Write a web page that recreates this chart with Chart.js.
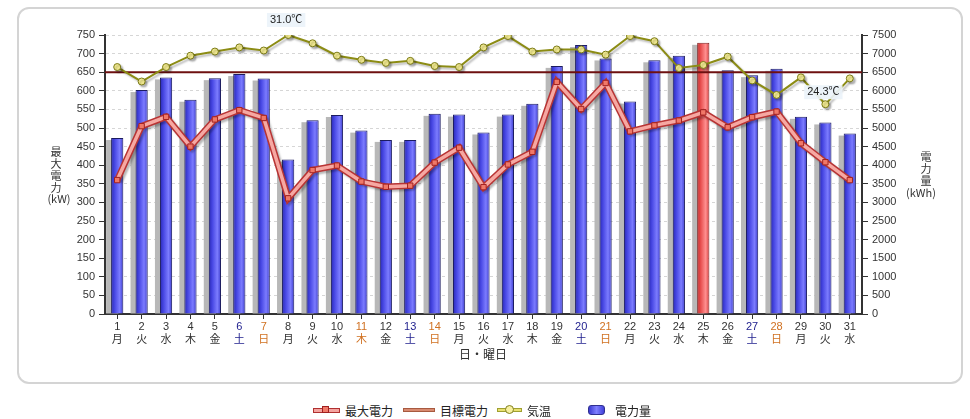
<!DOCTYPE html>
<html><head><meta charset="utf-8">
<script src="https://cdn.jsdelivr.net/npm/chart.js@4/dist/chart.umd.min.js"></script>
<style>
html,body{margin:0;padding:0;background:#fff;width:970px;height:419px;overflow:hidden;font-family:"Liberation Sans","Noto Sans CJK JP",sans-serif;}
#box{position:absolute;left:17px;top:7px;width:942px;height:373px;border:2px solid #d4d4d4;border-radius:12px;box-sizing:content-box;}
#wrap{position:absolute;left:0;top:0;width:970px;height:390px;}
.yt{position:absolute;font-size:11px;line-height:12px;text-align:center;color:#333;font-family:"Noto Sans CJK JP",sans-serif;}
.xt{position:absolute;font-size:12px;color:#333;font-family:"Noto Sans CJK JP",sans-serif;}
.lg{position:absolute;top:402px;height:16px;display:flex;align-items:center;font-size:12px;color:#222;font-family:"Noto Sans CJK JP",sans-serif;}
.mk{position:relative;display:inline-block;margin-right:5px;}
</style></head>
<body>
<div id="box"></div>
<div id="wrap"><canvas id="c" width="970" height="390"></canvas></div>
<div class="yt" style="left:48px;top:145px;width:16px;">最<br>大<br>電<br>力</div>
<div class="yt" style="left:44px;top:192px;width:30px;">(kW)</div>
<div class="yt" style="left:918px;top:150px;width:16px;">電<br>力<br>量</div>
<div class="yt" style="left:903px;top:186px;width:36px;">(kWh)</div>
<div class="xt" style="left:459px;top:345px;">日・曜日</div>

<div class="lg" style="left:313px;"><span class="mk" style="width:25px;height:3px;background:#f4a4a0;border:1px solid #b03030;"><span style="position:absolute;left:8px;top:-3px;width:7px;height:7px;background:#f07868;border:1px solid #a02020;box-sizing:border-box;"></span></span>最大電力</div>
<div class="lg" style="left:403px;"><span class="mk" style="width:30px;height:2px;background:#d88a70;border:1px solid #a85a40;"></span>目標電力</div>
<div class="lg" style="left:497px;"><span class="mk" style="width:23px;height:2px;background:#e8e070;border:1px solid #a0a030;"><span style="position:absolute;left:7px;top:-4px;width:9px;height:9px;border-radius:50%;background:#f8f0a0;border:1px solid #808020;box-sizing:border-box;"></span></span>気温</div>
<div class="lg" style="left:588px;"><span class="mk" style="width:15px;height:8px;border-radius:3px;background:linear-gradient(90deg,#3a3ad0,#8080ff,#4040d8);border:1px solid #303090;margin-right:10px;"></span>電力量</div>

<script>
const days = ['1','2','3','4','5','6','7','8','9','10','11','12','13','14','15','16','17','18','19','20','21','22','23','24','25','26','27','28','29','30','31'];
const weekdays = ['月','火','水','木','金','土','日','月','火','水','木','金','土','日','月','火','水','木','金','土','日','月','火','水','木','金','土','日','月','火','水'];
// w = weekday, s = Saturday, h = Sunday / holiday
const dayKinds = ['w','w','w','w','w','s','h','w','w','w','h','w','s','h','w','w','w','w','w','s','h','w','w','w','w','w','s','h','w','w','w'];
const energy = [4730,6020,6360,5760,6340,6450,6330,4150,5210,5350,4930,4680,4680,5380,5360,4880,5360,5650,6670,7230,6870,5710,6820,6940,7290,6550,6420,6590,5300,5150,4850];
const maxPower = [360,505,530,450,523,548,527,311,387,399,356,342,345,407,447,341,402,436,624,551,621,491,507,520,542,502,529,544,459,408,360];
const temperature = [27.9,26.5,27.9,29.0,29.4,29.8,29.5,31.0,30.2,29.0,28.6,28.3,28.5,28.0,27.9,29.8,30.9,29.4,29.6,29.6,29.1,30.9,30.4,27.8,28.1,28.9,26.6,25.2,26.9,24.3,26.8];
const targetPower = 650;
const powerTicks = {min:0, max:750, step:50};
const energyTicks = {min:0, max:7500, step:500};
const tempRange = {min:4, max:31};

const peakIndex = energy.indexOf(Math.max(...energy));
const tMaxI = temperature.indexOf(Math.max(...temperature));
const tMinI = temperature.indexOf(Math.min(...temperature));
const FONT = '"Liberation Sans","Noto Sans CJK JP",sans-serif';
const kindColor = {w:'#333333', s:'#1c1c8c', h:'#d07020'};

// bar shadow + horizontal gradient, positioned from the bar elements laid out by Chart.js
const barStyle = {
  id:'barStyle',
  beforeDatasetDraw(chart, args){
    if(args.meta.type !== 'bar') return;
    const ctx = chart.ctx;
    ctx.save(); ctx.fillStyle = '#b8b8b8';
    args.meta.data.forEach((el, i) => {
      const p = el.getProps(['x','y','base','width'], true);
      ctx.fillRect(p.x - p.width/2 - 5, p.y + 2, p.width, p.base - p.y - 2);
      const g = ctx.createLinearGradient(p.x - p.width/2, 0, p.x + p.width/2, 0);
      if(i === peakIndex){ g.addColorStop(0,'#c82828'); g.addColorStop(0.3,'#e85050'); g.addColorStop(0.7,'#ff9090'); g.addColorStop(1,'#d83c3c'); }
      else { g.addColorStop(0,'#2828b4'); g.addColorStop(0.3,'#4848e4'); g.addColorStop(0.7,'#7c7cff'); g.addColorStop(1,'#3a3acc'); }
      try { el.options.backgroundColor = g; } catch(e) {}
    });
    ctx.restore();
  }
};
const lineShadow = {
  id:'lineShadow',
  beforeDatasetDraw(chart, args){
    const ds = chart.data.datasets[args.index];
    if(!ds.shadow) return;
    const ctx = chart.ctx; ctx.save();
    ctx.shadowColor = 'rgba(0,0,0,0.28)'; ctx.shadowOffsetX = 2; ctx.shadowOffsetY = 2; ctx.shadowBlur = 2;
  },
  afterDatasetDraw(chart, args){
    const ds = chart.data.datasets[args.index];
    if(ds.shadow) chart.ctx.restore();
  }
};
const tempLabels = {
  id:'tempLabels',
  afterDatasetsDraw(chart){
    const idx = chart.data.datasets.findIndex(d => d.id === 'temp');
    const meta = chart.getDatasetMeta(idx);
    const ctx = chart.ctx;
    [[tMaxI,15],[tMinI,12]].forEach(([i,off]) => {
      const p = meta.data[i];
      const txt = temperature[i].toFixed(1) + '℃';
      ctx.save();
      ctx.font = '11px ' + FONT;
      const w = ctx.measureText(txt).width;
      const cy = p.y - off, cx = p.x - 2;
      ctx.fillStyle = 'rgba(236,243,250,0.92)';
      ctx.fillRect(cx - w/2 - 3, cy - 7, w + 6, 14);
      ctx.fillStyle = '#222'; ctx.textAlign = 'center'; ctx.textBaseline = 'middle';
      ctx.fillText(txt, cx, cy);
      ctx.restore();
    });
  }
};

new Chart(document.getElementById('c'), {
  data: {
    labels: days.map((d,i) => [d, weekdays[i]]),
    datasets: [
      {id:'mpInner', type:'line', data:maxPower, yAxisID:'y', borderColor:'#f6a8a2', borderWidth:3.5,
       pointStyle:'rect', pointRadius:3.8, pointBackgroundColor:'#f07868', pointBorderColor:'#a02020', pointBorderWidth:1, tension:0, order:0},
      {id:'mpOuter', type:'line', data:maxPower, yAxisID:'y', borderColor:'#b83434', borderWidth:6.5, pointRadius:0, tension:0, order:1, shadow:true},
      {id:'temp', type:'line', data:temperature, yAxisID:'yT', borderColor:'#8c8c14', borderWidth:2,
       pointRadius:3.5, pointBackgroundColor:'#f2ea90', pointBorderColor:'#7a7a18', pointBorderWidth:1, tension:0, order:2, shadow:true},
      {id:'target', type:'line', data:[{x:0,y:targetPower},{x:1,y:targetPower}], xAxisID:'xT', yAxisID:'y',
       borderColor:'#6e1010', borderWidth:2, pointRadius:0, order:3},
      {id:'energy', type:'bar', data:energy, xAxisID:'x', yAxisID:'y2', grouped:false,
       backgroundColor:(c)=> c.dataIndex===peakIndex ? '#e85050' : '#5a5ae8',
       borderColor:(c)=> c.dataIndex===peakIndex ? '#802020' : '#1c1c60', borderWidth:1,
       categoryPercentage:1, barPercentage:0.5, order:4}
    ]
  },
  options: {
    responsive:false, animation:false, events:[],
    layout:{padding:{top:35, left:0, right:0, bottom:0}},
    plugins:{legend:{display:false}, tooltip:{enabled:false}},
    scales:{
      x:{type:'category', offset:true,
         grid:{display:true, drawOnChartArea:false, offset:false, tickLength:5, tickColor:'#333'},
         border:{color:'#333', width:2},
         ticks:{font:{size:11, family:FONT, lineHeight:1.15}, padding:2, color:(c)=>kindColor[dayKinds[c.index]], maxRotation:0, autoSkip:false},
         afterFit(s){ s.height = 76; }},
      xT:{type:'linear', axis:'x', display:false, min:0, max:1},
      y:{type:'linear', position:'left', min:powerTicks.min, max:powerTicks.max,
         ticks:{stepSize:powerTicks.step, font:{size:11, family:FONT}, color:'#333', padding:4, callback:(v)=>String(v)},
         grid:{color:'#d6d6d6', tickColor:'#333', tickLength:6, tickBorderDash:[]},
         border:{color:'#333', width:2, dash:[3,3]},
         afterFit(s){ s.width = 105; }},
      y2:{type:'linear', position:'right', min:energyTicks.min, max:energyTicks.max,
         ticks:{stepSize:energyTicks.step, font:{size:11, family:FONT}, color:'#333', padding:4, callback:(v)=>String(v)},
         grid:{drawOnChartArea:false, tickColor:'#333', tickLength:6},
         border:{color:'#333', width:2},
         afterFit(s){ s.width = 108; }},
      yT:{type:'linear', display:false, min:tempRange.min, max:tempRange.max}
    }
  },
  plugins:[barStyle, lineShadow, tempLabels]
});
</script>
</body></html>
